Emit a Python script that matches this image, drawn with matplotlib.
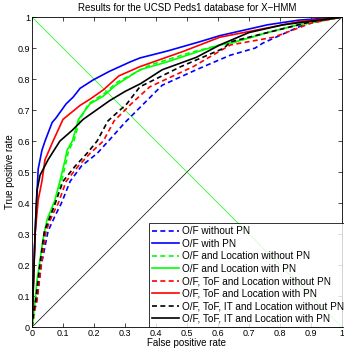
import matplotlib
matplotlib.use('Agg')
import matplotlib.pyplot as plt

plt.rcParams['font.family'] = ['Liberation Sans', 'DejaVu Sans']

# ROC curves (false positive rate, true positive rate)
of_fpr = [0, 0.005, 0.016, 0.03, 0.052, 0.075, 0.095, 0.123, 0.16, 0.21, 0.26, 0.30, 0.36, 0.42, 0.53, 0.60, 0.64, 0.72, 0.745, 0.887, 1]
of_tpr = [0, 0.04, 0.087, 0.2, 0.31, 0.36, 0.40, 0.47, 0.52, 0.56, 0.615, 0.66, 0.72, 0.78, 0.83, 0.86, 0.877, 0.90, 0.916, 0.98, 1]

of_pn_fpr = [0, 0.003, 0.008, 0.012, 0.02, 0.032, 0.042, 0.065, 0.077, 0.11, 0.133, 0.155, 0.197, 0.25, 0.316, 0.348, 0.435, 0.54, 0.606, 0.65, 0.76, 0.86, 1]
of_pn_tpr = [0, 0.1, 0.25, 0.35, 0.51, 0.57, 0.60, 0.66, 0.674, 0.72, 0.742, 0.77, 0.797, 0.825, 0.855, 0.868, 0.89, 0.92, 0.94, 0.95, 0.975, 0.99, 1]

loc_fpr = [0, 0.005, 0.013, 0.02, 0.03, 0.04, 0.053, 0.063, 0.079, 0.095, 0.112, 0.118, 0.135, 0.155, 0.182, 0.235, 0.275, 0.38, 0.51, 0.606, 0.65, 0.76, 0.86, 1]
loc_tpr = [0, 0.02, 0.087, 0.15, 0.216, 0.28, 0.345, 0.37, 0.41, 0.47, 0.54, 0.57, 0.60, 0.67, 0.72, 0.755, 0.79, 0.845, 0.885, 0.91, 0.918, 0.95, 0.975, 1]

loc_pn_fpr = [0, 0.003, 0.01, 0.016, 0.026, 0.035, 0.048, 0.058, 0.074, 0.09, 0.107, 0.113, 0.13, 0.15, 0.187, 0.23, 0.27, 0.348, 0.435, 0.54, 0.606, 0.65, 0.76, 0.86, 1]
loc_pn_tpr = [0, 0.02, 0.087, 0.15, 0.216, 0.28, 0.345, 0.37, 0.41, 0.47, 0.54, 0.57, 0.60, 0.67, 0.72, 0.745, 0.78, 0.83, 0.855, 0.89, 0.91, 0.918, 0.95, 0.975, 1]

tof_fpr = [0, 0.005, 0.016, 0.03, 0.045, 0.065, 0.085, 0.11, 0.15, 0.187, 0.23, 0.265, 0.32, 0.38, 0.52, 0.64, 0.78, 0.9, 1]
tof_tpr = [0, 0.04, 0.087, 0.2, 0.31, 0.36, 0.40, 0.47, 0.52, 0.56, 0.60, 0.665, 0.72, 0.775, 0.84, 0.91, 0.935, 0.98, 1]

tof_pn_fpr = [0, 0.005, 0.01, 0.02, 0.032, 0.042, 0.068, 0.10, 0.155, 0.187, 0.23, 0.28, 0.348, 0.49, 0.606, 0.76, 0.86, 1]
tof_pn_tpr = [0, 0.15, 0.3, 0.41, 0.47, 0.54, 0.60, 0.67, 0.715, 0.735, 0.765, 0.81, 0.84, 0.89, 0.935, 0.965, 0.985, 1]

it_fpr = [0, 0.005, 0.012, 0.025, 0.04, 0.06, 0.075, 0.1, 0.14, 0.177, 0.21, 0.245, 0.306, 0.348, 0.48, 0.62, 0.64, 0.8, 0.9, 1]
it_tpr = [0, 0.05, 0.087, 0.2, 0.31, 0.36, 0.40, 0.47, 0.52, 0.56, 0.60, 0.665, 0.72, 0.775, 0.84, 0.90, 0.92, 0.96, 0.985, 1]

it_pn_fpr = [0, 0.005, 0.01, 0.016, 0.026, 0.052, 0.09, 0.13, 0.155, 0.165, 0.25, 0.3, 0.35, 0.42, 0.53, 0.606, 0.7, 0.81, 1]
it_pn_tpr = [0, 0.15, 0.3, 0.44, 0.49, 0.54, 0.60, 0.635, 0.66, 0.67, 0.73, 0.76, 0.785, 0.83, 0.87, 0.91, 0.95, 0.975, 1]

labels = ['O/F without PN', 'O/F with PN',
          'O/F and Location without PN', 'O/F and Location with PN',
          'O/F, ToF and Location without PN', 'O/F, ToF and Location with PN',
          'O/F, ToF, IT and Location without PN', 'O/F, ToF, IT and Location with PN']

curves = [(of_fpr, of_tpr, 'b', '--'), (of_pn_fpr, of_pn_tpr, 'b', '-'),
          (loc_fpr, loc_tpr, '#00ff00', '--'), (loc_pn_fpr, loc_pn_tpr, '#00ff00', '-'),
          (tof_fpr, tof_tpr, 'r', '--'), (tof_pn_fpr, tof_pn_tpr, 'r', '-'),
          (it_fpr, it_tpr, 'k', '--'), (it_pn_fpr, it_pn_tpr, 'k', '-')]

fig = plt.figure(figsize=(3.44, 3.48), dpi=100)
ax = fig.add_axes([0.093, 0.060, 0.901, 0.891])

# reference diagonals
ax.plot([0, 1], [0, 1], color='k', lw=0.5)
ax.plot([0, 1], [1, 0], color='#00ff00', lw=0.5)

for (x, y, c, ls), lab in zip(curves, labels):
    if ls == '--':
        ax.plot(x, y, color=c, lw=1.2, label=lab, dashes=(3, 2))
    else:
        ax.plot(x, y, color=c, lw=1.2, label=lab)

ax.set_xlim(0, 1)
ax.set_ylim(0, 1)
ticks = [0, 0.1, 0.2, 0.3, 0.4, 0.5, 0.6, 0.7, 0.8, 0.9, 1]
tick_labels = ['0', '0.1', '0.2', '0.3', '0.4', '0.5', '0.6', '0.7', '0.8', '0.9', '1']
ax.set_xticks(ticks)
ax.set_yticks(ticks)
ax.set_xticklabels(tick_labels)
ax.set_yticklabels(tick_labels)
ax.tick_params(direction='in', top=True, right=True, labelsize=6.5, length=3, width=0.5, pad=1.5)
for s in ax.spines.values():
    s.set_linewidth(0.6)

ax.set_title('Results for the UCSD Peds1 database for X\u2212HMM', fontsize=7, pad=4)
ax.set_xlabel('False positive rate', fontsize=7, labelpad=0)
ax.set_ylabel('True positive rate', fontsize=7, labelpad=2)

leg = ax.legend(loc='lower left', bbox_to_anchor=(0.377, 0.0), fontsize=7.2, frameon=True,
                fancybox=False, borderaxespad=0, handlelength=2.7, handletextpad=0.25,
                labelspacing=0.25, borderpad=0.35)
leg.get_frame().set_edgecolor('k')
leg.get_frame().set_linewidth(0.7)

fig.savefig('out.png', dpi=100)
